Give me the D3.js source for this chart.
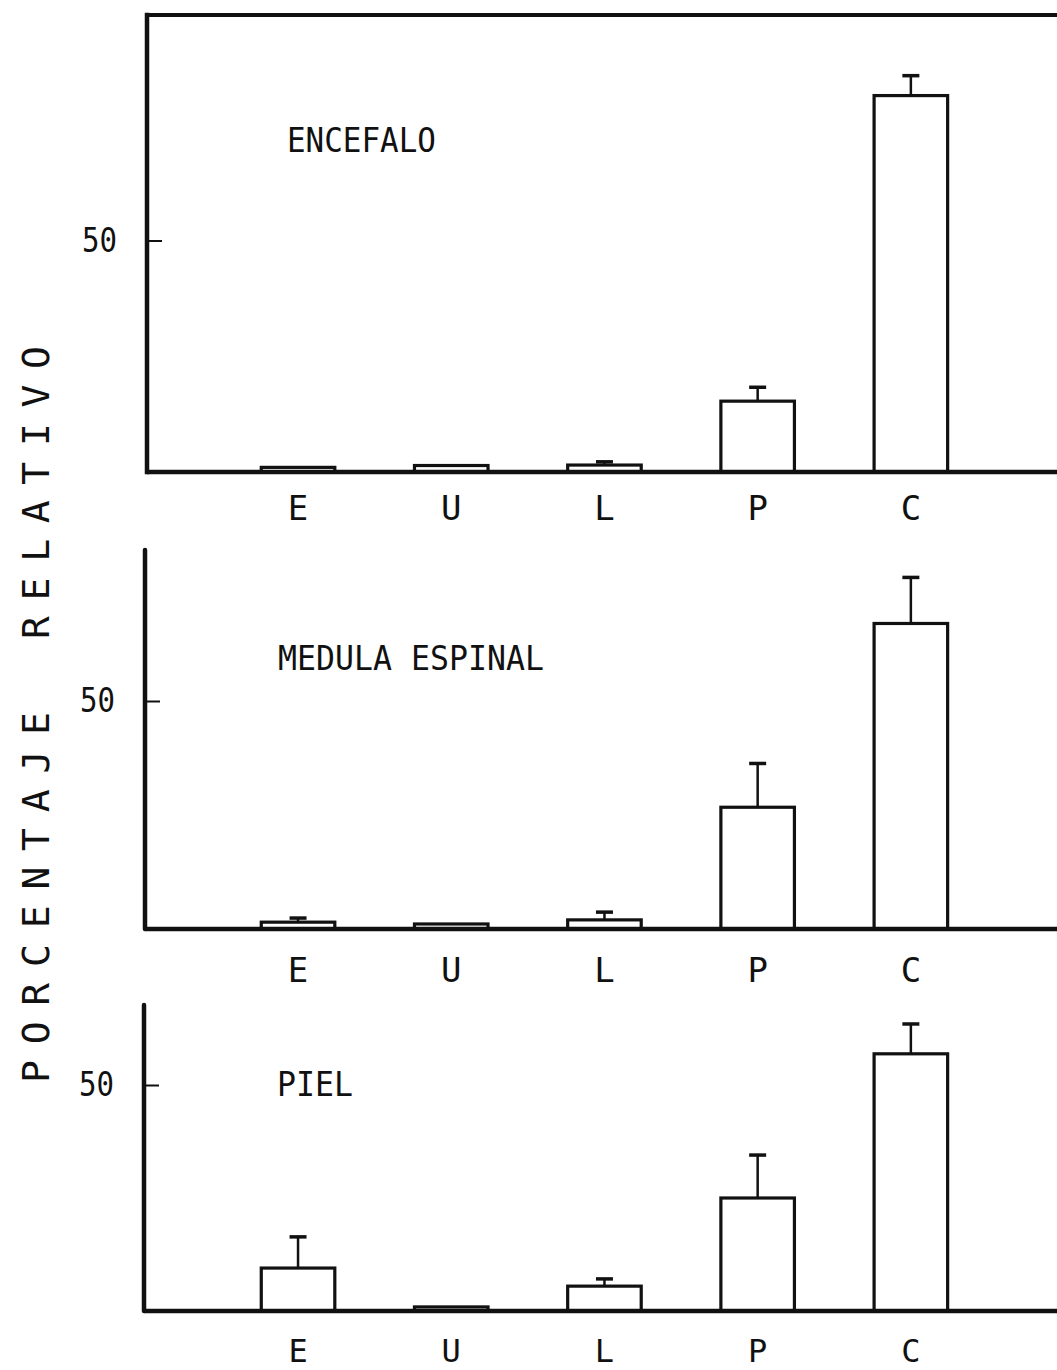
<!DOCTYPE html>
<html>
<head>
<meta charset="utf-8">
<script src="https://cdn.jsdelivr.net/npm/d3@7"></script>
<style>
  html, body { margin: 0; padding: 0; background: #fff; }
  svg { display: block; }
  text { font-family: "DejaVu Sans Mono", "Liberation Mono", monospace; fill: #111; }
</style>
</head>
<body>
<script>
// Relative percentage of each fraction (E, U, L, P, C) per tissue
const categories = ["E", "U", "L", "P", "C"];
const panelNames = ["ENCEFALO", "MEDULA ESPINAL", "PIEL"];

const encefaloMeans  = [1.0, 1.4, 1.5, 15.3, 81.3];
const encefaloErrors = [0, 0, 0.7, 3.0, 4.3];

const medulaMeans  = [1.5, 1.1, 2.0, 26.7, 67.0];
const medulaErrors = [0.9, 0, 1.7, 9.6, 10.1];

const pielMeans  = [9.5, 0.9, 5.5, 25.0, 56.9];
const pielErrors = [6.9, 0, 1.6, 9.5, 6.6];

const yTickValues = [50];
const yTitleWords = ["PORCENTAJE", "RELATIVO"];

const seriesMeans  = [encefaloMeans, medulaMeans, pielMeans];
const seriesErrors = [encefaloErrors, medulaErrors, pielErrors];

// Page geometry
const W = 1057, H = 1370;
const INK = "#111";

const layout = [
  { axisX: 147, top: 15,   y50: 240.5, base: 472,  frame: true,
    titleX: 287, titleY: 151.5, titleLen: 149, labelGap: 24, labelSize: 34 },
  { axisX: 145, top: 550,  y50: 701,   base: 929,  frame: false,
    titleX: 278, titleY: 670,   titleLen: 266, labelGap: 29, labelSize: 34 },
  { axisX: 144, top: 1005, y50: 1085,  base: 1311, frame: false,
    titleX: 277, titleY: 1096,  titleLen: 76,  labelGap: 28, labelSize: 32 }
];

const svg = d3.select("body").append("svg")
  .attr("width", W).attr("height", H)
  .attr("viewBox", `0 0 ${W} ${H}`);

svg.append("rect").attr("width", W).attr("height", H).attr("fill", "#fff");

// Shared horizontal scale for the five fractions
const x = d3.scaleBand()
  .domain(categories)
  .range([181.6, 1027.3])
  .paddingInner(0.52)
  .paddingOuter(0.52);

layout.forEach((L, i) => {
  const g = svg.append("g");
  const y = d3.scaleLinear().domain([0, 50]).range([L.base, L.y50]);
  const rows = categories.map((c, k) => ({ cat: c, mean: seriesMeans[i][k], err: seriesErrors[i][k] }));
  const cx = d => x(d.cat) + x.bandwidth() / 2;

  // bars
  g.selectAll("rect.bar").data(rows).join("rect")
    .attr("class", "bar")
    .attr("x", d => x(d.cat))
    .attr("width", x.bandwidth())
    .attr("y", d => y(d.mean))
    .attr("height", d => L.base - y(d.mean))
    .attr("fill", "#fff")
    .attr("stroke", INK)
    .attr("stroke-width", 3.2);

  // error bars (upper whisker only)
  const eb = rows.filter(d => d.err > 0);
  g.selectAll("line.whisker").data(eb).join("line")
    .attr("class", "whisker")
    .attr("x1", cx).attr("x2", cx)
    .attr("y1", d => y(d.mean))
    .attr("y2", d => y(d.mean + d.err))
    .attr("stroke", INK).attr("stroke-width", 2.5);
  g.selectAll("line.cap").data(eb).join("line")
    .attr("class", "cap")
    .attr("x1", d => cx(d) - 8.5)
    .attr("x2", d => cx(d) + 8.5)
    .attr("y1", d => y(d.mean + d.err))
    .attr("y2", d => y(d.mean + d.err))
    .attr("stroke", INK).attr("stroke-width", 3.5);

  // y axis: inward tick with label
  const yAxis = g.append("g")
    .attr("transform", `translate(${L.axisX},0)`)
    .call(d3.axisLeft(y).tickValues(yTickValues).tickSize(-15).tickPadding(30).tickSizeOuter(0));
  yAxis.select(".domain").remove();
  yAxis.selectAll(".tick line").attr("stroke", INK).attr("stroke-width", 2);
  yAxis.selectAll(".tick text")
    .attr("font-size", 34)
    .attr("font-family", "DejaVu Sans Mono, monospace")
    .attr("fill", INK)
    .attr("textLength", 35)
    .attr("lengthAdjust", "spacingAndGlyphs");

  // x axis labels
  const xAxis = g.append("g")
    .attr("transform", `translate(0,${L.base})`)
    .call(d3.axisBottom(x).tickSize(0).tickPadding(L.labelGap));
  xAxis.select(".domain").remove();
  xAxis.selectAll(".tick text")
    .attr("font-size", L.labelSize)
    .attr("font-family", "DejaVu Sans Mono, monospace")
    .attr("fill", INK);

  // axis lines
  g.append("line")
    .attr("x1", L.axisX).attr("x2", L.axisX)
    .attr("y1", L.top).attr("y2", L.base)
    .attr("stroke", INK).attr("stroke-width", 4.5)
    .attr("stroke-linecap", L.frame ? "square" : "round");
  g.append("line")
    .attr("x1", L.axisX).attr("x2", W + 5)
    .attr("y1", L.base).attr("y2", L.base)
    .attr("stroke", INK).attr("stroke-width", 4.5);
  if (L.frame) {
    g.append("line")
      .attr("x1", L.axisX).attr("x2", W + 5)
      .attr("y1", L.top).attr("y2", L.top)
      .attr("stroke", INK).attr("stroke-width", 4);
  }

  // panel title
  g.append("text")
    .attr("x", L.titleX).attr("y", L.titleY)
    .attr("font-size", 34)
    .attr("textLength", L.titleLen)
    .attr("lengthAdjust", "spacingAndGlyphs")
    .text(panelNames[i]);
});

// Vertical axis title, one word per text run
const titleRuns = [
  { word: yTitleWords[0], start: 1083, len: 371 },
  { word: yTitleWords[1], start: 639,  len: 293 }
];
svg.selectAll("text.ytitle").data(titleRuns).join("text")
  .attr("class", "ytitle")
  .attr("transform", d => `translate(49,${d.start}) rotate(-90)`)
  .attr("font-size", 38)
  .attr("textLength", d => d.len)
  .attr("lengthAdjust", "spacing")
  .text(d => d.word);
</script>
</body>
</html>
